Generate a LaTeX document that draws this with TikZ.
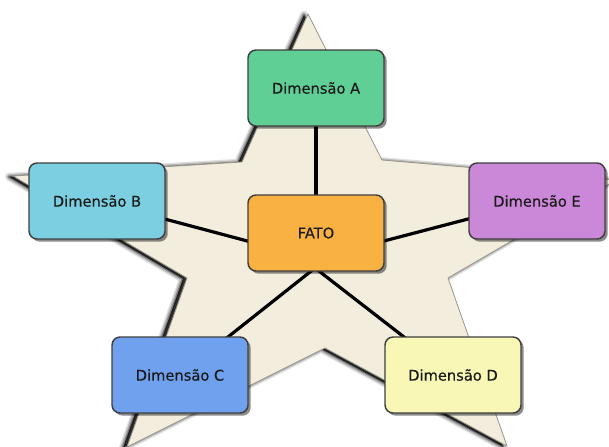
\documentclass[tikz,border=0pt]{standalone}
\usepackage{fontspec}
\newfontfamily\labelfont[FakeBold=0.35]{DejaVu Sans}
\usetikzlibrary{shadows}

\definecolor{starfill}{HTML}{F2EDDD}
\definecolor{staredge}{HTML}{9A968C}
\definecolor{boxedge}{HTML}{3F3F3F}
\definecolor{dimA}{HTML}{5FCF96}
\definecolor{dimB}{HTML}{7BCFE1}
\definecolor{dimC}{HTML}{6FA1EE}
\definecolor{dimD}{HTML}{F8F7B6}
\definecolor{dimE}{HTML}{CC88D8}
\definecolor{fato}{HTML}{F9B142}
\definecolor{label}{HTML}{1A1A1A}

\pgfdeclarelayer{bg}
\pgfsetlayers{bg,main}

\tikzset{
  star outline/.style={insert path={(308,14) -- (382,160) -- (616,180) -- (448,278)
      -- (507,446) -- (325,348) -- (127,447) -- (187,278) -- (13,176) -- (242,162) -- cycle}},
  box/.style={rectangle, rounded corners=6pt, draw=boxedge, line width=1.1pt,
      minimum width=102pt, minimum height=57pt, inner sep=0pt,
      font=\labelfont\fontsize{11}{13}\selectfont, text=label,
      drop shadow={shadow xshift=2pt, shadow yshift=-2pt, opacity=0.45, fill=black}},
  link/.style={line width=2.4pt, black}
}

\begin{document}
\begin{tikzpicture}[x=0.75pt, y=-0.75pt]
\useasboundingbox (0,0) rectangle (609,446);

% the star, with a soft shadow cast to the left
\begin{pgfonlayer}{bg}
\begin{scope}
  \clip (0,0) rectangle (609,446);
  \begin{scope}[xshift=-3pt, yshift=-0.6pt]
    \foreach \w/\o in {6/0.12, 4/0.18, 2/0.3}
      \draw[line width=\w pt, black, opacity=\o, line join=round, star outline];
    \fill[black, opacity=0.75, star outline];
  \end{scope}
  \fill[starfill, star outline];
  \draw[staredge, line width=0.6pt, line join=round, star outline];
\end{scope}
\end{pgfonlayer}

% boxes
\node[box, fill=fato] (fato) at (316,233) {FATO};
\node[box, fill=dimA] (a) at (316,88)  {Dimensão A};
\node[box, fill=dimB] (b) at (97,201)  {Dimensão B};
\node[box, fill=dimC] (c) at (180,375) {Dimensão C};
\node[box, fill=dimD] (d) at (453,375) {Dimensão D};
\node[box, fill=dimE] (e) at (537,201) {Dimensão E};

% hub points inside the fact box where the links meet
\coordinate (hubM) at (315,259);
\coordinate (hubS) at (315,268);

% links, drawn beneath the boxes
\begin{pgfonlayer}{bg}
  \draw[link] (a.center) -- (fato.center);
  \draw[link] (b.center) -- (hubM);
  \draw[link] (e.center) -- (hubM);
  \draw[link] (c.center) -- (hubS);
  \draw[link] (d.center) -- (hubS);
\end{pgfonlayer}
\end{tikzpicture}
\end{document}
